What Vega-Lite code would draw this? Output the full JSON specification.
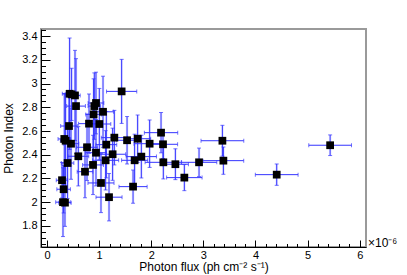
{
  "$schema": "https://vega.github.io/schema/vega-lite/v6.json",
  "width": 325,
  "height": 218,
  "autosize": "none",
  "padding": {"left": 41, "top": 29, "right": 41, "bottom": 28},
  "background": "white",
  "config": {
    "view": {"stroke": "#9a9a9a", "strokeWidth": 2},
    "font": "Liberation Sans",
    "axis": {"grid": false, "domainColor": "black", "tickColor": "black", "labelColor": "black", "titleColor": "black", "labelFont": "Liberation Sans", "titleFont": "Liberation Sans", "titleFontWeight": "normal", "labelFontSize": 11, "titleFontSize": 12}
  },
  "datasets": {
    "pts": [
      {"x": 0.288, "y": 2.185, "xlo": 0.178, "xhi": 0.398, "ylo": 2.035, "yhi": 2.335},
      {"x": 0.319, "y": 2.109, "xlo": 0.189, "xhi": 0.449, "ylo": 1.909, "yhi": 2.309},
      {"x": 0.307, "y": 2.0, "xlo": 0.167, "xhi": 0.447, "ylo": 1.71, "yhi": 2.29},
      {"x": 0.345, "y": 1.996, "xlo": 0.225, "xhi": 0.465, "ylo": 1.796, "yhi": 2.196},
      {"x": 0.332, "y": 2.533, "xlo": 0.212, "xhi": 0.452, "ylo": 2.153, "yhi": 2.913},
      {"x": 0.357, "y": 2.518, "xlo": 0.257, "xhi": 0.457, "ylo": 2.118, "yhi": 2.918},
      {"x": 0.395, "y": 2.33, "xlo": 0.275, "xhi": 0.515, "ylo": 2.03, "yhi": 2.63},
      {"x": 0.422, "y": 2.642, "xlo": 0.262, "xhi": 0.582, "ylo": 2.362, "yhi": 2.922},
      {"x": 0.461, "y": 2.493, "xlo": 0.311, "xhi": 0.611, "ylo": 2.193, "yhi": 2.793},
      {"x": 0.434, "y": 2.914, "xlo": 0.294, "xhi": 0.574, "ylo": 2.444, "yhi": 3.384},
      {"x": 0.472, "y": 2.909, "xlo": 0.352, "xhi": 0.592, "ylo": 2.689, "yhi": 3.129},
      {"x": 0.537, "y": 2.9, "xlo": 0.437, "xhi": 0.637, "ylo": 2.52, "yhi": 3.28},
      {"x": 0.557, "y": 2.81, "xlo": 0.377, "xhi": 0.737, "ylo": 2.41, "yhi": 3.21},
      {"x": 0.601, "y": 2.387, "xlo": 0.401, "xhi": 0.801, "ylo": 2.137, "yhi": 2.637},
      {"x": 0.729, "y": 2.257, "xlo": 0.579, "xhi": 0.879, "ylo": 2.037, "yhi": 2.477},
      {"x": 0.768, "y": 2.463, "xlo": 0.568, "xhi": 0.968, "ylo": 2.183, "yhi": 2.743},
      {"x": 0.806, "y": 2.662, "xlo": 0.606, "xhi": 1.006, "ylo": 2.412, "yhi": 2.912},
      {"x": 0.883, "y": 2.314, "xlo": 0.683, "xhi": 1.083, "ylo": 2.064, "yhi": 2.564},
      {"x": 0.894, "y": 2.74, "xlo": 0.744, "xhi": 1.044, "ylo": 2.44, "yhi": 3.04},
      {"x": 0.908, "y": 2.81, "xlo": 0.788, "xhi": 1.028, "ylo": 2.53, "yhi": 3.09},
      {"x": 0.94, "y": 2.836, "xlo": 0.79, "xhi": 1.09, "ylo": 2.576, "yhi": 3.096},
      {"x": 0.94, "y": 2.417, "xlo": 0.74, "xhi": 1.14, "ylo": 2.137, "yhi": 2.697},
      {"x": 1.004, "y": 2.659, "xlo": 0.784, "xhi": 1.224, "ylo": 2.359, "yhi": 2.959},
      {"x": 1.036, "y": 2.162, "xlo": 0.786, "xhi": 1.286, "ylo": 1.912, "yhi": 2.412},
      {"x": 1.075, "y": 2.762, "xlo": 0.875, "xhi": 1.275, "ylo": 2.462, "yhi": 3.062},
      {"x": 1.125, "y": 2.353, "xlo": 0.875, "xhi": 1.375, "ylo": 2.103, "yhi": 2.603},
      {"x": 1.138, "y": 2.485, "xlo": 0.938, "xhi": 1.338, "ylo": 2.205, "yhi": 2.765},
      {"x": 1.19, "y": 2.042, "xlo": 0.94, "xhi": 1.44, "ylo": 1.842, "yhi": 2.242},
      {"x": 1.259, "y": 2.404, "xlo": 1.009, "xhi": 1.509, "ylo": 2.184, "yhi": 2.624},
      {"x": 1.292, "y": 2.544, "xlo": 1.042, "xhi": 1.542, "ylo": 2.314, "yhi": 2.774},
      {"x": 1.432, "y": 2.934, "xlo": 1.142, "xhi": 1.722, "ylo": 2.664, "yhi": 3.204},
      {"x": 1.536, "y": 2.522, "xlo": 1.336, "xhi": 1.736, "ylo": 2.322, "yhi": 2.722},
      {"x": 1.651, "y": 2.131, "xlo": 1.381, "xhi": 1.921, "ylo": 1.991, "yhi": 2.271},
      {"x": 1.681, "y": 2.353, "xlo": 1.431, "xhi": 1.931, "ylo": 2.133, "yhi": 2.573},
      {"x": 1.739, "y": 2.535, "xlo": 1.489, "xhi": 1.989, "ylo": 2.335, "yhi": 2.735},
      {"x": 1.81, "y": 2.384, "xlo": 1.52, "xhi": 2.1, "ylo": 2.204, "yhi": 2.564},
      {"x": 1.969, "y": 2.493, "xlo": 1.669, "xhi": 2.269, "ylo": 2.293, "yhi": 2.693},
      {"x": 2.188, "y": 2.586, "xlo": 1.868, "xhi": 2.508, "ylo": 2.416, "yhi": 2.756},
      {"x": 2.226, "y": 2.488, "xlo": 1.946, "xhi": 2.506, "ylo": 2.368, "yhi": 2.608},
      {"x": 2.232, "y": 2.336, "xlo": 1.882, "xhi": 2.582, "ylo": 2.196, "yhi": 2.476},
      {"x": 2.463, "y": 2.32, "xlo": 2.213, "xhi": 2.713, "ylo": 2.19, "yhi": 2.45},
      {"x": 2.635, "y": 2.207, "xlo": 2.295, "xhi": 2.975, "ylo": 2.097, "yhi": 2.317},
      {"x": 2.917, "y": 2.336, "xlo": 2.577, "xhi": 3.257, "ylo": 2.216, "yhi": 2.456},
      {"x": 3.365, "y": 2.518, "xlo": 2.955, "xhi": 3.775, "ylo": 2.388, "yhi": 2.648},
      {"x": 3.384, "y": 2.35, "xlo": 2.994, "xhi": 3.774, "ylo": 2.235, "yhi": 2.465},
      {"x": 4.407, "y": 2.232, "xlo": 3.997, "xhi": 4.817, "ylo": 2.142, "yhi": 2.322},
      {"x": 5.432, "y": 2.48, "xlo": 5.022, "xhi": 5.842, "ylo": 2.393, "yhi": 2.567}
    ],
    "xminor": [
      {"v": 0.2}, {"v": 0.4}, {"v": 0.6}, {"v": 0.8}, {"v": 1.2}, {"v": 1.4}, {"v": 1.6}, {"v": 1.8},
      {"v": 2.2}, {"v": 2.4}, {"v": 2.6}, {"v": 2.8}, {"v": 3.2}, {"v": 3.4}, {"v": 3.6}, {"v": 3.8},
      {"v": 4.2}, {"v": 4.4}, {"v": 4.6}, {"v": 4.8}, {"v": 5.2}, {"v": 5.4}, {"v": 5.6}, {"v": 5.8}
    ],
    "note": [{"label": "×10⁻⁶", "x": 6.12, "y": 1.622}]
  },
  "layer": [
    {
      "data": {"name": "pts"},
      "mark": {"type": "rule", "color": "#a0a0ff", "strokeWidth": 2.5, "opacity": 0.3},
      "encoding": {
        "x": {"field": "x", "type": "quantitative", "scale": {"domain": [-0.115, 6.12], "nice": false, "zero": false}, "axis": null},
        "y": {"field": "ylo", "type": "quantitative", "scale": {"domain": [1.622, 3.46], "nice": false, "zero": false}, "axis": null},
        "y2": {"field": "yhi"}
      }
    },
    {
      "data": {"name": "pts"},
      "mark": {"type": "rule", "color": "#3434ff", "strokeWidth": 1},
      "encoding": {
        "x": {"field": "x", "type": "quantitative", "axis": null},
        "y": {"field": "ylo", "type": "quantitative", "axis": null},
        "y2": {"field": "yhi"}
      }
    },
    {
      "data": {"name": "pts"},
      "mark": {"type": "rule", "color": "#3434ff", "strokeWidth": 1},
      "encoding": {
        "x": {"field": "xlo", "type": "quantitative", "axis": null},
        "x2": {"field": "xhi"},
        "y": {"field": "y", "type": "quantitative", "axis": null}
      }
    },
    {
      "data": {"name": "pts"},
      "mark": {"type": "tick", "orient": "horizontal", "color": "#3434ff", "size": 4, "thickness": 1},
      "encoding": {
        "x": {"field": "x", "type": "quantitative", "axis": null},
        "y": {"field": "ylo", "type": "quantitative", "axis": null}
      }
    },
    {
      "data": {"name": "pts"},
      "mark": {"type": "tick", "orient": "horizontal", "color": "#3434ff", "size": 4, "thickness": 1},
      "encoding": {
        "x": {"field": "x", "type": "quantitative", "axis": null},
        "y": {"field": "yhi", "type": "quantitative", "axis": null}
      }
    },
    {
      "data": {"name": "pts"},
      "mark": {"type": "tick", "orient": "vertical", "color": "#3434ff", "size": 4, "thickness": 1},
      "encoding": {
        "x": {"field": "xlo", "type": "quantitative", "axis": null},
        "y": {"field": "y", "type": "quantitative", "axis": null}
      }
    },
    {
      "data": {"name": "pts"},
      "mark": {"type": "tick", "orient": "vertical", "color": "#3434ff", "size": 4, "thickness": 1},
      "encoding": {
        "x": {"field": "xhi", "type": "quantitative", "axis": null},
        "y": {"field": "y", "type": "quantitative", "axis": null}
      }
    },
    {
      "data": {"name": "pts"},
      "mark": {"type": "point", "shape": "square", "filled": true, "color": "black", "opacity": 1, "size": 60},
      "encoding": {
        "x": {"field": "x", "type": "quantitative", "axis": {"orient": "bottom", "values": [0, 1, 2, 3, 4, 5, 6], "tickSize": -7, "labelPadding": 9, "title": "Photon flux (ph cm⁻² s⁻¹)", "titlePadding": 1}},
        "y": {"field": "y", "type": "quantitative", "axis": {"orient": "left", "values": [1.8, 2, 2.2, 2.4, 2.6, 2.8, 3, 3.2, 3.4], "format": "~g", "tickSize": -9, "labelPadding": 13, "title": "Photon Index", "titlePadding": 6}}
      }
    },
    {
      "data": {"name": "xminor"},
      "mark": {"type": "point", "opacity": 0},
      "encoding": {
        "x": {"field": "v", "type": "quantitative", "axis": {"orient": "bottom", "values": [0.2, 0.4, 0.6, 0.8, 1.2, 1.4, 1.6, 1.8, 2.2, 2.4, 2.6, 2.8, 3.2, 3.4, 3.6, 3.8, 4.2, 4.4, 4.6, 4.8, 5.2, 5.4, 5.6, 5.8], "tickSize": -3.5, "labels": false, "title": null, "domain": false}},
        "y": {"datum": 2.4, "type": "quantitative", "axis": {"orient": "left", "values": [1.65, 1.7, 1.75, 1.85, 1.9, 1.95, 2.05, 2.1, 2.15, 2.25, 2.3, 2.35, 2.45, 2.5, 2.55, 2.65, 2.7, 2.75, 2.85, 2.9, 2.95, 3.05, 3.1, 3.15, 3.25, 3.3, 3.35, 3.45], "tickSize": -4.5, "labels": false, "title": null, "domain": false}}
      }
    },
    {
      "data": {"name": "note"},
      "mark": {"type": "text", "align": "left", "baseline": "alphabetic", "dx": 2, "dy": 0, "fontSize": 12, "font": "Liberation Sans", "color": "black"},
      "encoding": {
        "x": {"field": "x", "type": "quantitative", "axis": null},
        "y": {"field": "y", "type": "quantitative", "axis": null},
        "text": {"field": "label"}
      }
    }
  ],
  "resolve": {"axis": {"x": "independent", "y": "independent"}}
}
